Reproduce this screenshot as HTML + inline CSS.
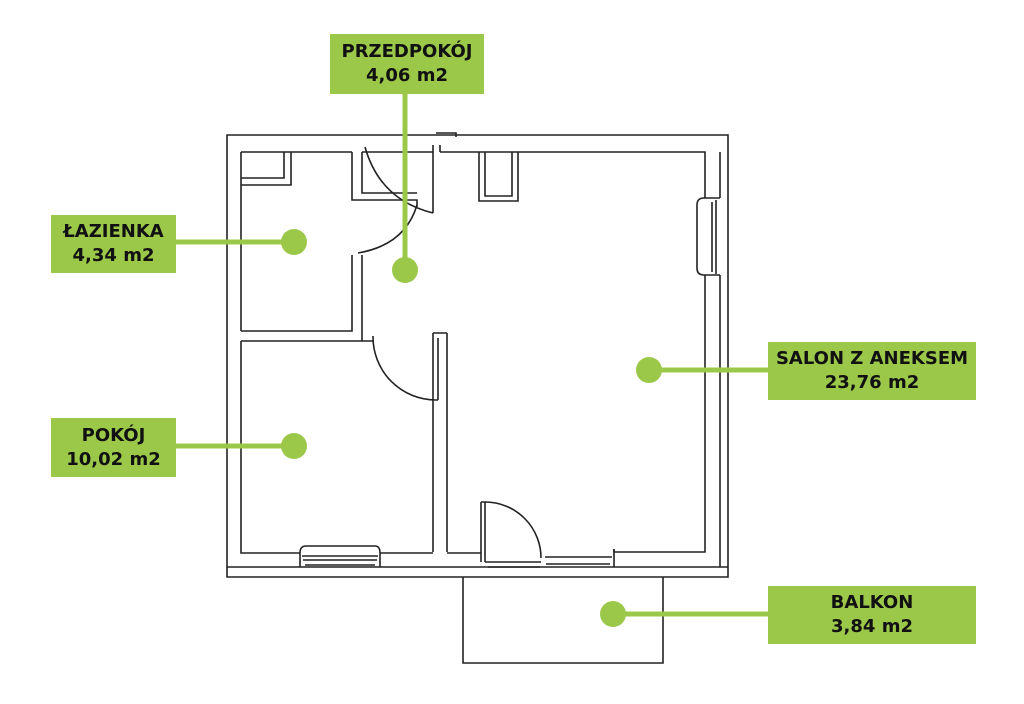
<!DOCTYPE html>
<html><head><meta charset="utf-8"><style>
html,body{margin:0;padding:0;background:#fff;}
.wrap{position:relative;width:1024px;height:704px;overflow:hidden;}
.lbl{position:absolute;background:#9cc84a;color:#111;font-family:"DejaVu Sans","Liberation Sans",sans-serif;font-weight:bold;font-size:18px;line-height:24px;text-align:center;display:flex;flex-direction:column;justify-content:center;}
</style></head><body><div class="wrap">
<svg width="1024" height="704" style="position:absolute;left:0;top:0" fill="none" stroke="#222" stroke-width="1.6">
<path d="M227 135 H728 V577 H227 Z"/>
<path d="M436 133 H456 V137"/>
<path d="M241 152 H352 M362 152 H433 M440 152 H705 V198 M705 275 V552 H614 V549"/>
<path d="M720 152 V198 M720 275 V567"/>
<path d="M241 152 V331 M241 341 V553 H300 M380 553 H433 M447 553 H481"/>
<path d="M227 567 H728"/>
<path d="M241 185 H291 V152 M241 178 H284 V152"/>
<path d="M352 152 V200 H417 V207 M362 152 V193 H417"/>
<path d="M352 255 V331 H241 M362 255 V341 H241 M362 341 H373"/>
<path d="M365 147 Q380 200 433 213 M433 145 V213 M440 145 V152"/>
<path d="M417 205 Q405 245 358 253"/>
<path d="M479 152 V201 H518 V152 M485 152 V196 H512 V152"/>
<path d="M433 333 V552 M447 333 V552 M433 333 H447 M438 338 V400"/>
<path d="M373 336 A 63 63 0 0 0 436 400 H438"/>
<path d="M481 502 V562 M485 502 V562 M481 502 H486"/>
<path d="M486 502 A 56 56 0 0 1 541 558"/>
<path d="M300 567 V553 Q300 546 306 546 H375 Q380 546 380 553 V567"/>
<path d="M303 560 H377 M305 565 H375 M302 556 H378"/>
<path d="M485 562 H541 M488 567 H540 M545 557 H612 M546 564 H610"/>
<path d="M614 549 V567"/>
<path d="M720 198 H704 Q697 198 697 205 V268 Q697 275 704 275 H720 M712 202 V272 M716 200 V274"/>
<path d="M463 577 V663 H663 V577"/>
</svg>
<svg width="1024" height="704" style="position:absolute;left:0;top:0">
<g stroke="#9cc84a" stroke-width="5">
<line x1="405" y1="94" x2="405" y2="270"/>
<line x1="176" y1="242" x2="294" y2="242"/>
<line x1="176" y1="446" x2="294" y2="446"/>
<line x1="649" y1="370" x2="768" y2="370"/>
<line x1="613" y1="614" x2="768" y2="614"/>
</g>
<g fill="#9cc84a">
<circle cx="405" cy="270" r="13"/>
<circle cx="294" cy="242" r="13"/>
<circle cx="294" cy="446" r="13"/>
<circle cx="649" cy="370" r="13"/>
<circle cx="613" cy="614" r="13"/>
</g>
</svg>
<div class="lbl" style="left:330px;top:34px;width:154px;height:60px;">PRZEDPOKÓJ<br>4,06 m2</div>
<div class="lbl" style="left:51px;top:215px;width:125px;height:58px;">ŁAZIENKA<br>4,34 m2</div>
<div class="lbl" style="left:51px;top:418px;width:125px;height:59px;">POKÓJ<br>10,02 m2</div>
<div class="lbl" style="left:768px;top:342px;width:208px;height:58px;">SALON Z ANEKSEM<br>23,76 m2</div>
<div class="lbl" style="left:768px;top:586px;width:208px;height:58px;">BALKON<br>3,84 m2</div>
</div></body></html>
